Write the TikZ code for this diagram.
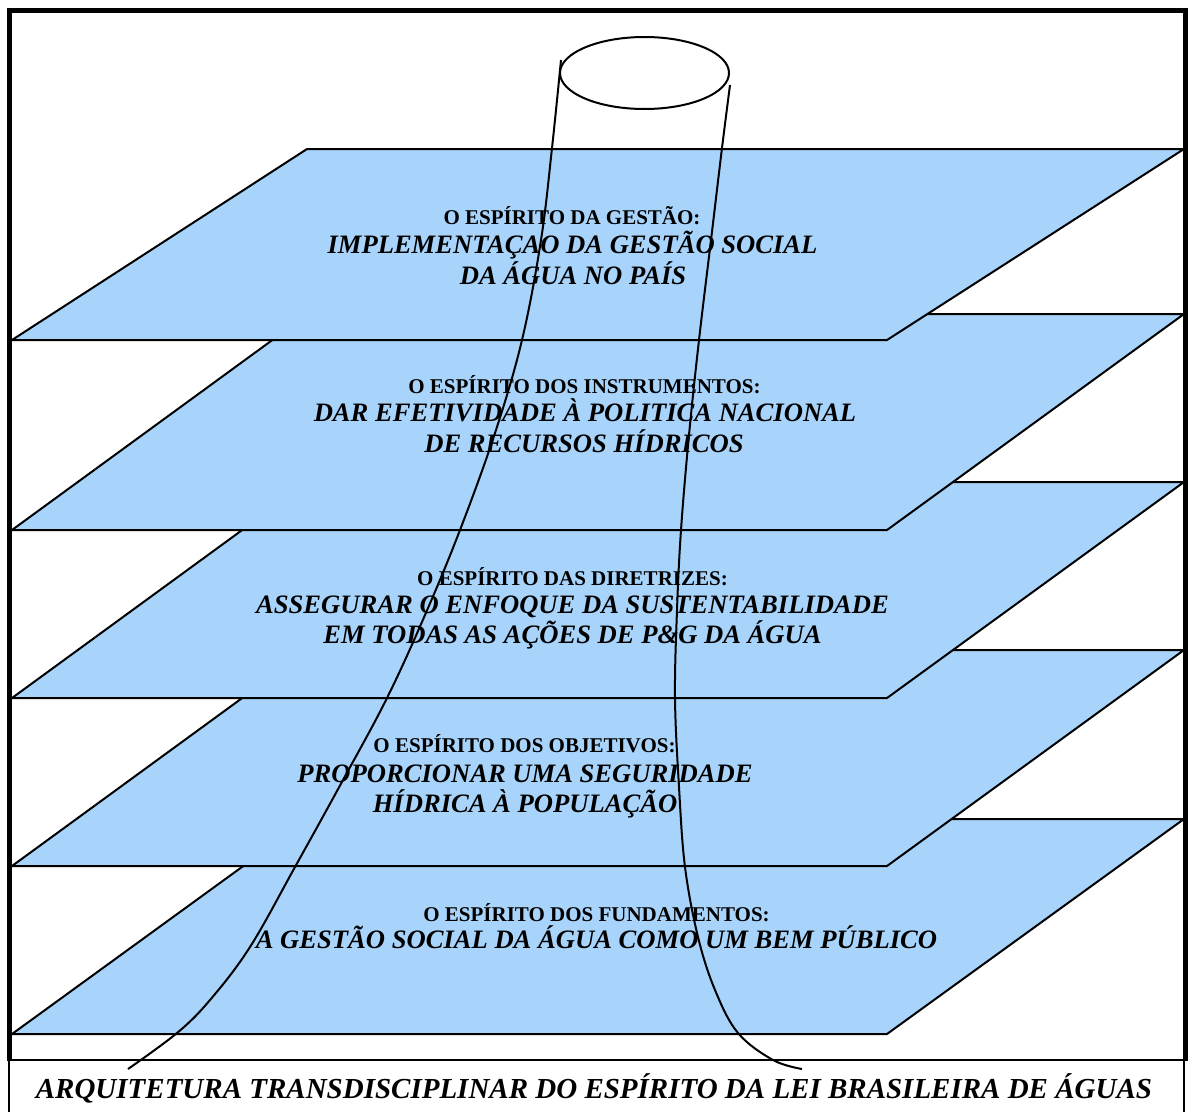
\documentclass[tikz,border=0pt]{standalone}
\usepackage{fontspec}
\setmainfont{Liberation Serif}
\definecolor{planeblue}{RGB}{168,212,252}
\tikzset{
  plane/.style={fill=planeblue, draw=black, line width=2pt, line join=miter},
  head/.style={anchor=base, inner sep=0pt, font=\fontsize{21}{21}\selectfont\bfseries},
  body/.style={anchor=base, inner sep=0pt, font=\fontsize{26.6}{26.6}\selectfont\bfseries\itshape},
  captext/.style={anchor=base, inner sep=0pt, font=\fontsize{29}{29}\selectfont\bfseries\itshape},
  tube/.style={draw=black, line width=2pt},
  frameline/.style={draw=black, line width=5.5pt},
}
\begin{document}
\begin{tikzpicture}[x=1pt,y=-1pt]
\useasboundingbox (0,0) rectangle (1188,1111);
% planes, from bottom to top
\draw[plane] (308,819) -- (1184,819) -- (887,1034) -- (12,1034) -- cycle;
\draw[plane] (308,650) -- (1184,650) -- (887,866) -- (12,866) -- cycle;
\draw[plane] (308,482) -- (1184,482) -- (887,698) -- (12,698) -- cycle;
\draw[plane] (308,314) -- (1184,314) -- (887,530) -- (12,530) -- cycle;
\draw[plane] (307,149) -- (1184,149) -- (887,340) -- (12,340) -- cycle;
% texts
\node[head] (h1) at (572,224) {O ESPÍRITO DA GESTÃO:};
\node[body] (b1a) at (572.5,253) {IMPLEMENTAÇAO DA GESTÃO SOCIAL};
\node[body] (b1b) at (573,284) {DA ÁGUA NO PAÍS};
\node[head] (h2) at (584.5,393) {O ESPÍRITO DOS INSTRUMENTOS:};
\node[body] (b2a) at (585,421) {DAR EFETIVIDADE À POLITICA NACIONAL};
\node[body] (b2b) at (584,452) {DE RECURSOS HÍDRICOS};
\node[head] (h3) at (572.5,585) {O ESPÍRITO DAS DIRETRIZES:};
\node[body] (b3a) at (572.5,613) {ASSEGURAR O ENFOQUE DA SUSTENTABILIDADE};
\node[body] (b3b) at (572.5,643) {EM TODAS AS AÇÕES DE P\&G DA ÁGUA};
\node[head] (h4) at (524.5,752) {O ESPÍRITO DOS OBJETIVOS:};
\node[body] (b4a) at (525,782) {PROPORCIONAR UMA SEGURIDADE};
\node[body] (b4b) at (525,812) {HÍDRICA À POPULAÇÃO};
\node[head] (h5) at (596.5,921) {O ESPÍRITO DOS FUNDAMENTOS:};
\node[body] (b5a) at (596.5,948) {A GESTÃO SOCIAL DA ÁGUA COMO UM BEM PÚBLICO};
% cylinder
\draw[tube] (644.5,73) ellipse [x radius=84.5, y radius=36];
\draw[tube] plot[smooth, tension=0.6] coordinates {(561,60) (552,148) (541,240) (522,340) (495,433) (460,530) (425,615) (387,698) (343,780) (295,867) (250,947) (210,1000) (177,1033) (128,1069)};
\draw[tube] plot[smooth, tension=0.6] coordinates {(730,85) (722,148) (711,240) (699,340) (689,435) (681,530) (677,610) (675,698) (679,787) (685,867) (698,937) (715,990) (738,1033) (773,1060) (802,1069)};
% frame
\draw[frameline] (9.5,1061) -- (9.5,10.5) -- (1185.5,10.5) -- (1185.5,1061);
\draw[draw=black, line width=2pt] (9,1060) rectangle (1184,1113);
\node[captext] (cap) at (594,1098) {ARQUITETURA TRANSDISCIPLINAR DO ESPÍRITO DA LEI BRASILEIRA DE ÁGUAS};
\end{tikzpicture}
\end{document}
